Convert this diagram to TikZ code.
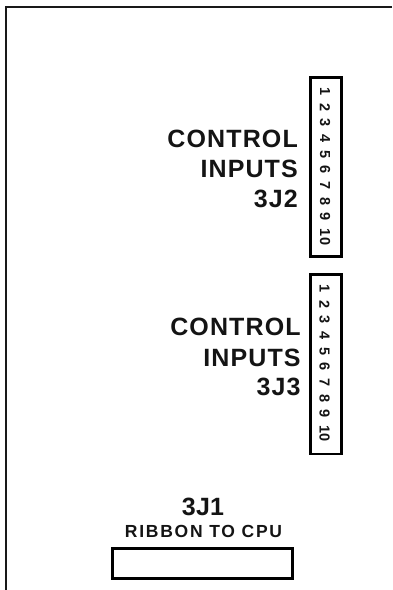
\documentclass[tikz,border=0pt]{standalone}
\usepackage{fontspec}
\setmainfont{Liberation Sans}
\tikzset{x=1pt,y=-1pt,
 conn/.style={draw=black,line width=2.6pt,fill=white,inner sep=0pt,anchor=north west},
 big/.style={font=\fontsize{25}{28}\bfseries\addfontfeatures{LetterSpace=4.5},text=black!92,inner sep=0pt,anchor=base east},
 mid/.style={font=\fontsize{25}{28}\bfseries\addfontfeatures{LetterSpace=1},text=black!92,inner sep=0pt,anchor=base},
 small/.style={font=\fontsize{17.5}{19}\bfseries\addfontfeatures{LetterSpace=10},text=black!92,inner sep=0pt,anchor=base},
 pin/.style={font=\fontsize{14.5}{16}\bfseries,rotate=-90,inner sep=0pt,text=black!92}}
\begin{document}
\begin{tikzpicture}
\useasboundingbox (0,0) rectangle (392,590);
\coordinate (fa) at (392,7);
\coordinate (fb) at (6,7);
\coordinate (fc) at (6,590);
\draw[line width=1.9pt,black!90] (fa) -- (fb) -- (fc);
\node[conn,minimum width=31pt,minimum height=179pt] (j2) at (309,76) {};
\node[conn,minimum width=31pt,minimum height=179.5pt] (j3) at (309,273) {};
\node[conn,minimum width=180pt,minimum height=30pt] (j1) at (111,547) {};
\foreach \n/\y in {1/92,2/108,3/123,4/139,5/155,6/170,7/186,8/202,9/217,10/237}{
  \node[pin] (a\n) at (325,\y) {\n};
  \node[pin] (b\n) at (324.5,\y+196.5) {\n};
}
\node[big] (c1) at (298,147.5) {CONTROL};
\node[big] (i1) at (298,177) {INPUTS};
\node[big] (n1) at (298,207) {3J2};
\node[big] (c2) at (300.8,335) {CONTROL};
\node[big] (i2) at (300.8,366) {INPUTS};
\node[big] (n2) at (300.8,395.5) {3J3};
\node[mid] (n3) at (203,515) {3J1};
\node[small] (r) at (203.5,537.5) {RIBBON TO CPU};
\end{tikzpicture}
\end{document}
